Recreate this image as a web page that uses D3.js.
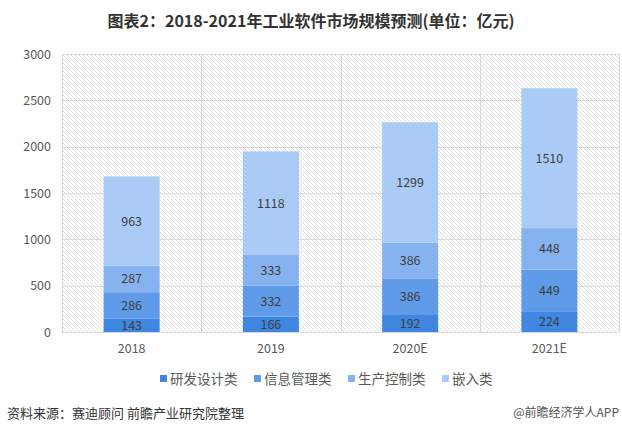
<!DOCTYPE html>
<html><head><meta charset="utf-8">
<script src="https://cdn.jsdelivr.net/npm/d3@7"></script>
<style>
body{margin:0;background:#fff;}
svg{display:block;font-family:"Microsoft YaHei","Noto Sans CJK SC",sans-serif;}
</style></head>
<body><svg id="c" width="622" height="434"></svg>
<script>
const categories = ["2018","2019","2020E","2021E"];
const seriesNames = ["研发设计类","信息管理类","生产控制类","嵌入类"];
const rd = [143,166,192,224];
const info = [286,332,386,449];
const prod = [287,333,386,448];
const embed = [963,1118,1299,1510];
const yTicks = [0,500,1000,1500,2000,2500,3000];
const colors = ["#3e86e0","#5f9be8","#86b3ef","#a9cbf6"];

const svg = d3.select("#c");
const L=62,R=619,T=54,B=332;
const x = d3.scaleBand().domain(categories).range([L,R]).paddingInner(0).paddingOuter(0);
const y = d3.scaleLinear().domain([0,3000]).range([B,T]);

// hatch pattern
const defs = svg.append("defs");
const pat = defs.append("pattern").attr("id","hatch").attr("patternUnits","userSpaceOnUse")
  .attr("width",4).attr("height",4);
pat.append("rect").attr("width",4).attr("height",4).attr("fill","#fff");
pat.append("path").attr("d","M-1,-1 L5,5 M-1,3 L1,5 M3,-1 L5,1").attr("stroke","#d6d6d6").attr("stroke-width",0.8);

svg.append("rect").attr("x",L).attr("y",T).attr("width",R-L).attr("height",B-T).attr("fill","url(#hatch)");

// grid
svg.append("g").selectAll("line").data(yTicks).join("line")
  .attr("x1",L).attr("x2",R).attr("y1",d=>Math.round(y(d))+0.5).attr("y2",d=>Math.round(y(d))+0.5)
  .attr("stroke","#d9d9d9").attr("stroke-width",1);
const vb = categories.map(c=>x(c)).concat([R]);
svg.append("g").selectAll("line").data(vb).join("line")
  .attr("x1",d=>Math.round(d)+0.5).attr("x2",d=>Math.round(d)+0.5).attr("y1",T).attr("y2",B)
  .attr("stroke","#d9d9d9").attr("stroke-width",1);

// stacked bars
const rows = categories.map((c,i)=>({cat:c,"研发设计类":rd[i],"信息管理类":info[i],"生产控制类":prod[i],"嵌入类":embed[i]}));
const stack = d3.stack().keys(seriesNames)(rows);
const bw = 56;
const g = svg.append("g");
stack.forEach((s,si)=>{
  g.append("g").selectAll("rect").data(s).join("rect")
    .attr("x",d=>x(d.data.cat)+x.bandwidth()/2-bw/2)
    .attr("width",bw)
    .attr("y",d=>y(d[1]))
    .attr("height",d=>y(d[0])-y(d[1]))
    .attr("fill",colors[si]);
  g.append("g").selectAll("text").data(s).join("text")
    .attr("x",d=>x(d.data.cat)+x.bandwidth()/2)
    .attr("y",d=>(y(d[0])+y(d[1]))/2)
    .attr("dy","0.36em")
    .attr("text-anchor","middle")
    .attr("font-size",12.5)
    .attr("fill","#404040")
    .text(d=>d.data[s.key]);
});

// axes
const ya = d3.axisLeft(y).tickValues(yTicks).tickSize(0).tickPadding(11).tickFormat(d3.format("d"));
const yg = svg.append("g").attr("transform",`translate(${L},0)`).call(ya);
yg.select(".domain").remove();
yg.selectAll("text").attr("font-size",12.5).attr("fill","#595959").attr("font-family","'Microsoft YaHei','Noto Sans CJK SC',sans-serif");

const xa = d3.axisBottom(x).tickSize(0).tickPadding(12);
const xg = svg.append("g").attr("transform",`translate(0,${B})`).call(xa);
xg.select(".domain").remove();
xg.selectAll("text").attr("font-size",12.5).attr("fill","#595959").attr("font-family","'Microsoft YaHei','Noto Sans CJK SC',sans-serif");

// legend
const legX = [160,254,348,442];
const lg = svg.append("g");
seriesNames.forEach((n,i)=>{
  lg.append("rect").attr("x",legX[i]).attr("y",375).attr("width",7).attr("height",7).attr("fill",colors[i]);
  lg.append("text").attr("x",legX[i]+10).attr("y",379).attr("dy","0.36em")
    .attr("font-size",13.5).attr("fill","#595959").text(n);
});

// title
svg.append("text").attr("x",311).attr("y",21).attr("dy","0.36em").attr("text-anchor","middle")
  .attr("font-size",16).attr("font-weight","bold").attr("fill","#333").text("图表2：2018-2021年工业软件市场规模预测(单位：亿元)");

// source
svg.append("text").attr("x",7).attr("y",413).attr("dy","0.36em").attr("font-size",13).attr("fill","#333")
  .text("资料来源：赛迪顾问 前瞻产业研究院整理");
svg.append("text").attr("x",619).attr("y",413).attr("dy","0.36em").attr("text-anchor","end").attr("font-size",12).attr("fill","#555")
  .text("@前瞻经济学人APP");
</script></body></html>
